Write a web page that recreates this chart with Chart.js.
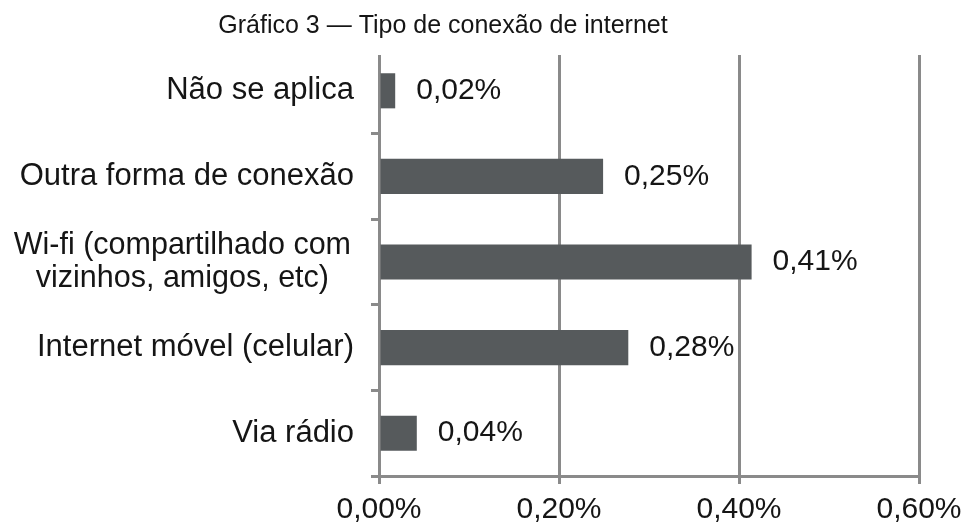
<!DOCTYPE html>
<html><head><meta charset="utf-8">
<script src="https://cdn.jsdelivr.net/npm/chart.js@4/dist/chart.umd.min.js"></script>
<style>html,body{margin:0;padding:0;background:#fff}#wrap{width:964px;height:526px}</style>
</head><body>
<div id="wrap"><canvas id="c" width="964" height="526"></canvas></div>
<script>
const titleText = 'Gráfico 3 — Tipo de conexão de internet';
const categories = ['Não se aplica', 'Outra forma de conexão', ['Wi-fi (compartilhado com', 'vizinhos, amigos, etc)'], 'Internet móvel (celular)', 'Via rádio'];
const values = [0.018, 0.249, 0.414, 0.277, 0.042];
const xMin = 0, xMax = 0.6, xStep = 0.2;

const FONT = "'Liberation Sans', Arial, sans-serif";
const GRID = '#8a8a8a';
const TEXT = '#151515';
const fmt = v => v.toFixed(2).replace('.', ',') + '%';

const overlay = {
  id: 'overlay',
  beforeDatasetsDraw(chart) {
    const ctx = chart.ctx;
    const a = chart.chartArea;
    ctx.save();
    ctx.fillStyle = '#ffffff';
    ctx.fillRect(a.left - 3, a.top - 2, a.right - a.left + 6, 9);
    ctx.restore();
  },
  afterDraw(chart) {
    const ctx = chart.ctx;
    ctx.save();
    ctx.fillStyle = TEXT;
    ctx.font = '25px ' + FONT;
    ctx.textAlign = 'center';
    ctx.textBaseline = 'middle';
    ctx.fillText(titleText, 443, 26);

    const ys = chart.scales.y;
    categories.forEach((lab, i) => {
      const lines = Array.isArray(lab) ? lab : [lab];
      ctx.font = (lines.length > 1 ? '30.5px ' : '31px ') + FONT;
      const py = ys.getPixelForValue(i);
      const maxW = Math.max(...lines.map(l => ctx.measureText(l).width));
      const right = lines.length > 1 ? ys.right - 28 : ys.right - 25;
      const cx = right - maxW / 2;
      const lh = 33;
      lines.forEach((l, j) => {
        ctx.fillText(l, cx, py + (j - (lines.length - 1) / 2) * lh);
      });
    });

    ctx.font = '30px ' + FONT;
    const meta = chart.getDatasetMeta(0);
    ctx.textAlign = 'left';
    meta.data.forEach((bar, i) => {
      ctx.fillText(fmt(values[i]), bar.x + 21, bar.y);
    });
    ctx.restore();
  }
};

new Chart(document.getElementById('c'), {
  type: 'bar',
  data: {
    labels: categories,
    datasets: [{
      data: values,
      backgroundColor: '#565a5c',
      borderWidth: 0,
      categoryPercentage: 1,
      barPercentage: 0.41
    }]
  },
  options: {
    indexAxis: 'y',
    responsive: false,
    devicePixelRatio: 1,
    animation: false,
    layout: { padding: { left: 0, right: 45, top: 48, bottom: 0 } },
    plugins: { legend: { display: false }, tooltip: { enabled: false }, title: { display: false } },
    scales: {
      x: {
        min: xMin, max: xMax,
        afterFit: s => { s.height = 50; s.paddingLeft = 0; s.paddingRight = 0; },
        ticks: {
          stepSize: xStep,
          padding: 8,
          color: TEXT,
          font: { family: FONT, size: 30 },
          callback: v => fmt(v)
        },
        grid: { color: GRID, lineWidth: 3, tickLength: 8, drawTicks: true },
        border: { display: true, color: GRID, width: 3 }
      },
      y: {
        afterFit: s => { s.width = 379; s.paddingTop = 0; s.paddingBottom = 0; },
        ticks: { display: false },
        grid: {
          offset: true,
          drawOnChartArea: false,
          drawTicks: true,
          tickLength: 8,
          lineWidth: 3,
          color: c => (c.index === 0 ? 'rgba(0,0,0,0)' : GRID)
        },
        border: { display: true, color: GRID, width: 3 }
      }
    }
  },
  plugins: [overlay]
});
</script>
</body></html>
